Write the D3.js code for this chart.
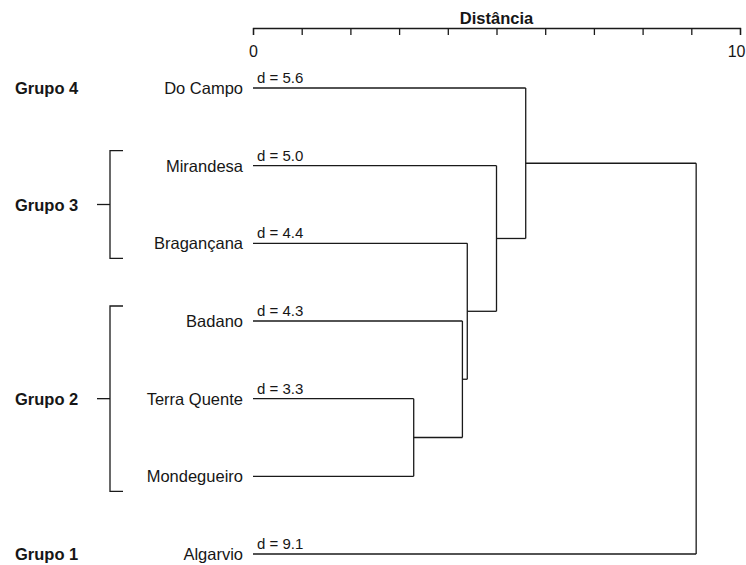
<!DOCTYPE html>
<html>
<head>
<meta charset="utf-8">
<script src="https://cdn.jsdelivr.net/npm/d3@7"></script>
<style>
  html, body { margin: 0; padding: 0; background: #fff; }
  svg { display: block; }
  text { font-family: "Liberation Sans", Arial, Helvetica, sans-serif; fill: #161616; }
</style>
</head>
<body>
<svg id="chart" width="746" height="565"></svg>
<script>
// ---- data ----
const leaves = ["Do Campo", "Mirandesa", "Bragançana", "Badano", "Terra Quente", "Mondegueiro", "Algarvio"];
const leafDistance = [5.6, 5.0, 4.4, 4.3, 3.3, null, 9.1];
// merges: each entry joins two members (leaf name or "m<index>" of an earlier merge)
const mergeLeft  = ["Terra Quente", "Badano", "Bragançana", "Mirandesa", "Do Campo", "Algarvio"];
const mergeRight = ["Mondegueiro", "m0", "m1", "m2", "m3", "m4"];
const mergeHeight = [3.3, 4.3, 4.4, 5.0, 5.6, 9.1];
const groupNames = ["Grupo 4", "Grupo 3", "Grupo 2", "Grupo 1"];
const groupFirst = ["Do Campo", "Mirandesa", "Badano", "Algarvio"];
const groupLast  = ["Do Campo", "Bragançana", "Mondegueiro", "Algarvio"];
const tickValues = [0, 1, 2, 3, 4, 5, 6, 7, 8, 9, 10];
const tickLabels = ["0", "", "", "", "", "", "", "", "", "", "10"];
const axisTitle = "Distância";

// ---- layout ----
const svg = d3.select("#chart");
const x = d3.scaleLinear().domain([0, 10]).range([253, 740]);
const y = d3.scalePoint().domain(leaves).range([88, 554]);
const ink = "#1a1a1a";
const sw = 1.3;

// axis
const axisY = 28;
const axis = d3.axisBottom(x)
  .tickValues(tickValues)
  .tickFormat((d, i) => tickLabels[i])
  .tickSize(7)
  .tickSizeOuter(7)
  .tickPadding(11);
const ag = svg.append("g").attr("transform", `translate(0,${axisY})`).call(axis);
ag.selectAll("path, line").attr("stroke", ink).attr("stroke-width", sw);
ag.selectAll("text").attr("font-size", 16).attr("fill", "#161616")
  .style("font-family", '"Liberation Sans", Arial, sans-serif');
ag.selectAll(".tick").filter(d => d === 10).select("text")
  .attr("text-anchor", "end").attr("x", 5);
svg.append("text")
  .attr("x", x(5)).attr("y", 24)
  .attr("text-anchor", "middle")
  .attr("font-size", 16.5).attr("font-weight", "bold")
  .text(axisTitle);

// dendrogram
const pos = {};
leaves.forEach(l => { pos[l] = { x: x(0), y: y(l) }; });
const g = svg.append("g").attr("fill", "none").attr("stroke", ink).attr("stroke-width", sw);
mergeHeight.forEach((h, i) => {
  const a = pos[mergeLeft[i]], b = pos[mergeRight[i]];
  const nx = x(h);
  [a, b].forEach(c => {
    g.append("line").attr("x1", c.x).attr("x2", nx).attr("y1", c.y).attr("y2", c.y);
  });
  g.append("line").attr("x1", nx).attr("x2", nx).attr("y1", a.y).attr("y2", b.y);
  pos["m" + i] = { x: nx, y: (a.y + b.y) / 2 };
});

// leaf labels
svg.selectAll(".leaf").data(leaves).join("text")
  .attr("class", "leaf")
  .attr("x", 243).attr("y", d => y(d) + 6)
  .attr("text-anchor", "end")
  .attr("font-size", 16.5)
  .text(d => d);

// distance labels
svg.selectAll(".dist").data(leaves.filter((d, i) => leafDistance[i] !== null)).join("text")
  .attr("class", "dist")
  .attr("x", 257).attr("y", d => y(d) - 5)
  .attr("font-size", 15)
  .text(d => "d = " + leafDistance[leaves.indexOf(d)].toFixed(1));

// groups
const bg = svg.append("g").attr("fill", "none").attr("stroke", ink).attr("stroke-width", sw);
groupNames.forEach((name, i) => {
  const y0 = y(groupFirst[i]), y1 = y(groupLast[i]);
  const ym = (y0 + y1) / 2;
  svg.append("text")
    .attr("x", 15).attr("y", ym + 6)
    .attr("font-size", 16.5).attr("font-weight", "bold")
    .text(name);
  if (y1 > y0) {
    const t = y0 - 15, b = y1 + 15;
    bg.append("path").attr("d", `M123,${t}H110V${b}H123`);
    bg.append("line").attr("x1", 97).attr("x2", 110).attr("y1", ym).attr("y2", ym);
  }
});
</script>
</body>
</html>
